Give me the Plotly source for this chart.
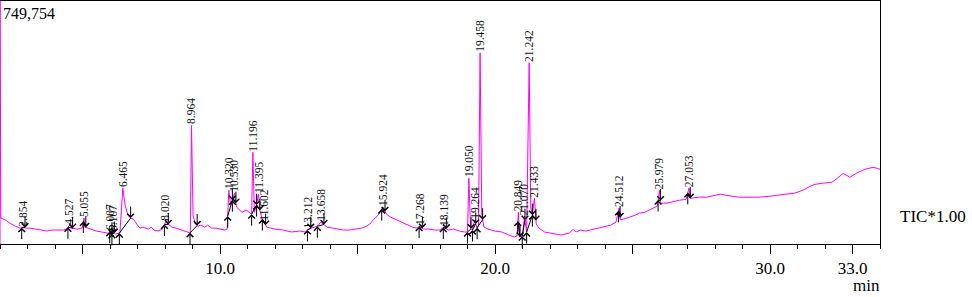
import numpy as np
import plotly.graph_objects as go

FULL_SCALE = 749754

# Chromatogram trace (retention time in min, intensity in counts)
time_min = [
    2.00, 2.00, 2.03, 2.20, 2.36, 2.55, 2.73, 2.854, 2.95, 3.09, 3.30, 3.45, 3.70, 3.90, 4.10, 4.30, 4.42,
    4.527, 4.62, 4.80, 4.98, 5.055, 5.09, 5.20, 5.35, 5.50, 5.70, 5.85, 5.95, 6.007, 6.05, 6.107, 6.20,
    6.36, 6.465, 6.55, 6.65, 6.75, 6.85, 7.00, 7.09, 7.20, 7.27, 7.40, 7.50, 7.60, 7.75, 7.90, 8.020,
    8.10, 8.25, 8.40, 8.60, 8.84, 8.92, 8.964, 9.02, 9.10, 9.20, 9.30, 9.45, 9.55, 9.70, 9.85, 10.00,
    10.18, 10.26, 10.320, 10.38, 10.45, 10.530, 10.60, 10.70, 10.80, 10.95, 11.05, 11.15, 11.196, 11.25,
    11.33, 11.395, 11.45, 11.52, 11.602, 11.70, 11.85, 12.00, 12.30, 12.60, 12.90, 13.10, 13.212, 13.40,
    13.55, 13.658, 13.76, 13.90, 14.10, 14.30, 14.50, 14.70, 14.97, 15.15, 15.33, 15.45, 15.57, 15.75,
    15.924, 16.05, 16.20, 16.43, 16.60, 16.80, 17.00, 17.15, 17.268, 17.40, 17.60, 17.80, 18.00, 18.139,
    18.30, 18.50, 18.70, 18.90, 19.00, 19.050, 19.11, 19.18, 19.264, 19.34, 19.40, 19.458, 19.52, 19.60,
    19.75, 20.00, 20.25, 20.50, 20.70, 20.80, 20.849, 20.90, 21.00, 21.070, 21.15, 21.242, 21.30, 21.36,
    21.433, 21.50, 21.60, 21.80, 22.00, 22.20, 22.40, 22.70, 22.85, 22.95, 23.10, 23.30, 23.70, 24.00,
    24.20, 24.40, 24.512, 24.56, 24.70, 24.90, 25.10, 25.25, 25.45, 25.70, 25.90, 25.979, 26.03, 26.25,
    26.50, 26.70, 26.95, 27.053, 27.10, 27.40, 27.70, 28.00, 28.20, 28.36, 28.60, 28.85, 29.20, 29.60,
    30.00, 30.30, 30.60, 30.90, 31.10, 31.27, 31.45, 31.64, 31.90, 32.25, 32.45, 32.66, 32.90, 33.20,
    33.45, 33.75, 33.90, 34.00,
]
intensity = [
    0, 820000, 80000, 74000, 64500, 55000, 49000, 52000, 49000, 49000, 46000, 43000, 40000, 43000, 43000, 43000, 46000,
    58000, 49000, 46000, 49000, 80000, 52000, 49000, 43000, 40000, 37000, 34000, 33000, 40000, 28000, 37000, 31000,
    34000, 172000, 120000, 89000, 80000, 77000, 58000, 49000, 52000, 49000, 46000, 52000, 43000, 40000, 46000, 67600,
    61500, 52000, 49000, 43000, 37000, 34000, 365700, 89000, 61500, 55000, 58000, 52000, 58000, 49000, 49000, 46000,
    43000, 46000, 166000, 120000, 135000, 157000, 114000, 104500, 98000, 104500, 98000, 92000, 283000, 98000,
    120000, 154000, 104500, 80000, 67600, 52000, 49000, 46000, 43000, 37000, 40000, 37000, 46000, 52000,
    55000, 67600, 61500, 52000, 49000, 46000, 43000, 43000, 46000, 49000, 55000, 61500, 74000, 89000,
    114000, 92000, 83000, 74000, 67600, 58000, 52000, 49000, 55000, 46000, 46000, 43000, 43000, 52000,
    43000, 46000, 40000, 37000, 37000, 203000, 49000, 43000, 74000, 49000, 55000, 590000, 89000, 52000,
    46000, 40000, 37000, 27700, 21500, 24600, 98000, 21500, 24600, 86000, 37000, 559000, 114000, 89000,
    141000, 61500, 49000, 37000, 34000, 31000, 27700, 34000, 46000, 37000, 43000, 40000, 49000, 55000,
    58000, 67600, 111000, 74000, 77000, 83000, 89000, 95000, 98000, 107500, 117000, 166000, 126000, 126000,
    132000, 135000, 138000, 172000, 141000, 144500, 144500, 151000, 154000, 151000, 147500, 144500, 144500, 144500,
    147500, 151000, 154000, 157000, 163000, 169000, 178000, 184000, 187500, 190500, 203000, 218000, 206000, 221000,
    230500, 236600, 233500, 230500,
]

# Trace continuing past the right edge of the frame
tail_time = [34.05, 34.10, 34.15, 34.20, 34.25, 34.29, 34.40, 34.44, 34.47]
tail_intensity = [221000, 212000, 203000, 197000, 187000, 181000, 147500, 138000, 129000]

# Integrated peaks: retention time, start and end of integration
peak_rt = [2.854, 4.527, 5.055, 6.007, 6.107, 6.465, 8.020, 8.964, 10.320, 10.530, 11.196, 11.395, 11.602,
           13.212, 13.658, 15.924, 17.268, 18.139, 19.050, 19.264, 19.458, 20.849, 21.070, 21.242, 21.433,
           24.512, 25.979, 27.053]
peak_start = [2.79, 4.47, 5.03, 5.99, 6.07, 6.34, 7.98, 8.91, 10.28, 10.45, 11.15, 11.33, 11.54,
              13.18, 13.54, 15.88, 17.24, 18.12, 19.00, 19.18, 19.35, 20.83, 20.99, 21.15, 21.36,
              24.49, 25.93, 27.01]
peak_end = [2.91, 4.64, 5.12, 6.07, 6.16, 6.75, 8.12, 9.17, 10.45, 10.58, 11.33, 11.45, 11.66,
            13.30, 13.78, 16.00, 17.36, 18.23, 19.13, 19.30, 19.55, 20.91, 21.09, 21.36, 21.49,
            24.55, 26.02, 27.10]

x_major = [5, 10, 15, 20, 25, 30, 33]
x_major_text = ["", "10.0", "", "20.0", "", "30.0", "33.0"]

SERIF = "Liberation Serif, Times New Roman, serif"
MAGENTA = "#ff00ff"

t_arr = np.array(time_min)
i_arr = np.array(intensity, dtype=float)


def level(t):
    return float(np.interp(t, t_arr[2:], i_arr[2:]))


fig = go.Figure()

fig.add_trace(go.Scatter(x=time_min, y=intensity, mode="lines",
                         line=dict(color=MAGENTA, width=1), hoverinfo="skip"))
fig.add_trace(go.Scatter(x=tail_time, y=tail_intensity, mode="markers", cliponaxis=False,
                         marker=dict(color=MAGENTA, size=1.6), hoverinfo="skip"))

# integration baselines
bx, by = [], []
for s, e in zip(peak_start, peak_end):
    bx += [s, e, None]
    by += [level(s), level(e), None]
fig.add_trace(go.Scatter(x=bx, y=by, mode="lines", line=dict(color="black", width=1),
                         hoverinfo="skip"))

annotations = []
for s, e in zip(peak_start, peak_end):
    annotations.append(dict(x=s, y=level(s), xref="x", yref="y", text="", showarrow=True,
                            ax=0, ay=13, arrowhead=4, arrowsize=1.3, arrowwidth=1, arrowcolor="black"))
    annotations.append(dict(x=e, y=level(e), xref="x", yref="y", text="", showarrow=True,
                            ax=0, ay=-13, arrowhead=4, arrowsize=1.3, arrowwidth=1, arrowcolor="black"))

for rt in peak_rt:
    annotations.append(dict(x=rt, y=level(rt), xref="x", yref="y", text=f"{rt:.3f}", showarrow=False,
                            textangle=-90, xanchor="center", yanchor="bottom", yshift=-1,
                            font=dict(family=SERIF, size=11.5, color="#111111")))

annotations += [
    dict(x=0, y=1, xref="paper", yref="paper", text="749,754", showarrow=False, xanchor="left",
         yanchor="middle", xshift=1, yshift=-12, font=dict(family=SERIF, size=16, color="black")),
    dict(x=1, y=0, xref="paper", yref="paper", text="TIC*1.00", showarrow=False, xanchor="left",
         yanchor="middle", xshift=18, yshift=28, font=dict(family=SERIF, size=17, color="black")),
    dict(x=1, y=0, xref="paper", yref="paper", text="min", showarrow=False, xanchor="right",
         yanchor="middle", xshift=2, yshift=-41, font=dict(family=SERIF, size=17, color="black")),
]

fig.update_layout(
    width=972, height=297,
    margin=dict(l=0, r=92, t=1, b=53),
    paper_bgcolor="white", plot_bgcolor="white",
    showlegend=False,
    annotations=annotations,
    xaxis=dict(range=[2, 34], showline=True, linecolor="black", linewidth=1, mirror=True,
               ticks="outside", ticklen=9, tickcolor="black", tickwidth=1,
               tickvals=x_major, ticktext=x_major_text,
               minor=dict(dtick=1, tick0=0, ticks="outside", ticklen=4, tickcolor="black", tickwidth=1),
               showgrid=False, zeroline=False,
               tickfont=dict(family=SERIF, size=17, color="black")),
    yaxis=dict(range=[0, FULL_SCALE], showline=True, linecolor="black", linewidth=1, mirror=True,
               showticklabels=False, ticks="", showgrid=False, zeroline=False),
)

fig.write_html("out.html")
